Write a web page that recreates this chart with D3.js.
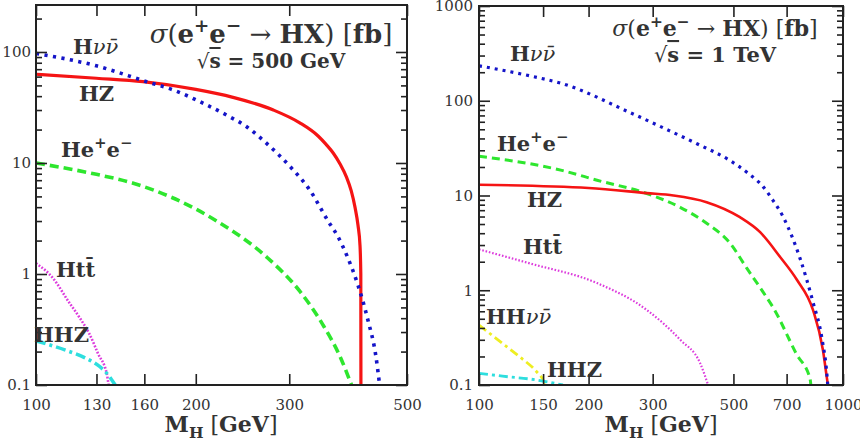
<!DOCTYPE html>
<html>
<head>
<meta charset="utf-8">
<script src="https://cdnjs.cloudflare.com/ajax/libs/d3/7.8.5/d3.min.js"></script>
<style>
body { margin: 0; background: #fff; }
svg { display: block; }
text { font-family: "DejaVu Serif", serif; fill: #333; }
</style>
</head>
<body>
<svg id="chart" width="860" height="446"></svg>
<script>
// sqrt(s) = 500 GeV, [M_H in GeV, sigma in fb]
var hnn500 = [[100, 97], [130, 75], [161.6, 54], [181.4, 45.5], [203.6, 35.7], [228.6, 27], [249.4, 21.2],
  [272, 15], [301, 9.3], [328, 5.7], [355, 3.0], [370, 2.2], [387, 1.39], [404, 0.8], [422, 0.385],
  [437, 0.18], [444, 0.1]];
var hz500 = [[100, 63], [130, 58], [159, 54], [200, 46], [235, 39], [280, 30], [314, 23], [340, 17.5],
  [352, 14.7], [363, 12.3], [374, 9.8], [384.4, 7.5], [392.6, 5.6], [399, 4.0], [404.2, 2.76],
  [407.8, 1.8], [409.2, 1.0], [409.4, 0.1]];
var he500 = [[100, 10], [130, 7.9], [152, 6.6], [219, 3.0], [272, 1.42], [314, 0.70],
  [347, 0.35], [374, 0.18], [393, 0.1]];
var htt500 = [[100, 1.25], [108, 0.9], [115, 0.57], [121, 0.40], [126, 0.29], [131, 0.19], [136, 0.125], [137, 0.1]];
var hhz500 = [[100, 0.25], [114, 0.205], [124, 0.175], [132, 0.146], [137, 0.122], [141, 0.1]];

// sqrt(s) = 1 TeV
var hnn1000 = [[100, 234], [138, 183], [170, 151], [260, 75], [320, 52], [397, 35.2], [489, 23.4], [545, 17.5],
  [603, 12.4], [642, 8.9], [684, 6.0], [724, 3.7], [762, 2.17], [827, 0.75], [876, 0.305], [904, 0.124], [908, 0.1]];
var hz1000 = [[100, 13], [200, 12], [289, 10.6], [342, 10.0], [422, 8.5], [521, 5.9], [592, 4.1], [671, 2.26],
  [747, 1.29], [827, 0.62], [881, 0.233], [903, 0.119], [909, 0.1]];
var he1000 = [[100, 26], [170, 18.3], [211, 14.5], [289, 10.5], [357, 7.5], [422, 5.1], [489, 3.15],
  [544, 1.71], [604, 0.95], [644, 0.65], [746, 0.21], [812, 0.116], [816, 0.1]];
var htt1000 = [[100, 2.7], [138, 1.92], [211, 1.19], [289, 0.62], [357, 0.30], [405, 0.17], [426, 0.1]];
var hhnn1000 = [[100, 0.43], [116, 0.275], [129, 0.2], [144, 0.138], [150, 0.113], [152, 0.1]];
var hhz1000 = [[100, 0.133], [116, 0.124], [144, 0.113], [170, 0.1]];

var xTicks500 = [100, 130, 160, 200, 300, 500];
var yTicks500 = [0.1, 1, 10, 100];
var xTicks1000 = [100, 150, 200, 300, 500, 700, 1000];
var yTicks1000 = [0.1, 1, 10, 100, 1000];

var svg = d3.select('#chart');

// text made of styled pieces: b = bold, i = italic, o = overline, sup / sub
function richText(g, x, y, parts, size, anchor) {
  var t = g.append('text')
    .attr('x', x).attr('y', y)
    .attr('font-size', size)
    .attr('text-anchor', anchor || 'start');
  var shift = 0;
  parts.forEach(function(p) {
    var s = (p[1] || '').split(' ');
    var target = s.indexOf('sup') >= 0 ? -0.42 * size : (s.indexOf('sub') >= 0 ? 0.25 * size : 0);
    var sp = t.append('tspan')
      .attr('dy', target - shift)
      .attr('font-weight', s.indexOf('b') >= 0 ? 'bold' : 'normal')
      .attr('font-style', s.indexOf('i') >= 0 ? 'italic' : 'normal')
      .text(p[0]);
    if (target !== 0) sp.attr('font-size', size * 0.7);
    if (s.indexOf('o') >= 0) sp.style('text-decoration', 'overline');
    shift = target;
  });
  return t;
}

function minorTicks(domain) {
  var out = [];
  for (var e = Math.floor(Math.log10(domain[0])); e <= Math.ceil(Math.log10(domain[1])); e++) {
    for (var k = 2; k <= 9; k++) {
      var v = k * Math.pow(10, e);
      if (v > domain[0] && v < domain[1]) out.push(v);
    }
  }
  return out;
}

function drawPanel(p, id) {
  var x = d3.scaleLog().domain(p.xDomain).range([p.left, p.right]);
  var y = d3.scaleLog().domain(p.yDomain).range([p.bottom, p.top]);
  var g = svg.append('g');

  g.append('clipPath').attr('id', 'clip' + id)
    .append('rect')
    .attr('x', p.left).attr('y', p.top)
    .attr('width', p.right - p.left).attr('height', p.bottom - p.top);

  var line = d3.line()
    .x(function(d) { return x(d[0]); })
    .y(function(d) { return y(d[1]); })
    .curve(d3.curveMonotoneX);

  g.append('g').attr('clip-path', 'url(#clip' + id + ')')
    .selectAll('path')
    .data(p.curves)
    .enter().append('path')
    .attr('d', function(c) { return line(c.data); })
    .attr('fill', 'none')
    .attr('stroke', function(c) { return c.color; })
    .attr('stroke-width', function(c) { return c.width; })
    .attr('stroke-dasharray', function(c) { return c.dash; });

  var fmt = function(d) { return String(d); };
  var styleAxis = function(a) {
    a.select('.domain').remove();
    a.selectAll('line').attr('stroke', '#222').attr('stroke-width', 1.6);
    a.selectAll('text').attr('font-family', '"DejaVu Serif", serif').attr('font-size', 15).attr('fill', '#333');
  };
  var minor = minorTicks(p.yDomain);

  g.append('g').attr('transform', 'translate(0,' + p.bottom + ')')
    .call(d3.axisBottom(x).tickValues(p.xTicks).tickFormat(fmt).tickSize(-11).tickPadding(14))
    .call(styleAxis);
  g.append('g').attr('transform', 'translate(0,' + p.top + ')')
    .call(d3.axisTop(x).tickValues(p.xTicks).tickFormat('').tickSize(-11))
    .call(styleAxis);
  g.append('g').attr('transform', 'translate(' + p.left + ',0)')
    .call(d3.axisLeft(y).tickValues(p.yTicks).tickFormat(fmt).tickSize(-11).tickPadding(p.yPad))
    .call(styleAxis);
  g.append('g').attr('transform', 'translate(' + p.left + ',0)')
    .call(d3.axisLeft(y).tickValues(minor).tickFormat('').tickSize(-6))
    .call(styleAxis);
  g.append('g').attr('transform', 'translate(' + p.right + ',0)')
    .call(d3.axisRight(y).tickValues(p.yTicks).tickFormat('').tickSize(-11))
    .call(styleAxis);
  g.append('g').attr('transform', 'translate(' + p.right + ',0)')
    .call(d3.axisRight(y).tickValues(minor).tickFormat('').tickSize(-6))
    .call(styleAxis);

  g.append('rect')
    .attr('x', p.left).attr('y', p.top)
    .attr('width', p.right - p.left).attr('height', p.bottom - p.top)
    .attr('fill', 'none').attr('stroke', '#222').attr('stroke-width', 2);

  p.labels.forEach(function(l) {
    richText(g, l.x, l.y, l.parts, l.size, l.anchor);
  });
}

var title = [['σ', 'i'], ['('], ['e', 'b'], ['+', 'b sup'], ['e', 'b'], ['−', 'b sup'], [' → '], ['HX', 'b'], [')'], [' ['], ['fb', 'b'], [']']];
var xLabel = [['M', 'b'], ['H', 'b sub'], [' ['], ['GeV', 'b'], [']']];
var nunu = [['H', 'b'], ['νν\u0304', 'i']];
var hee = [['He', 'b'], ['+', 'b sup'], ['e', 'b'], ['−', 'b sup']];
var htt = [['Htt\u0304', 'b']];

drawPanel({
  left: 36, right: 407, top: 5, bottom: 385,
  xDomain: [100, 500], yDomain: [0.1, 265],
  xTicks: xTicks500, yTicks: yTicks500, yPad: 5,
  curves: [
    { data: he500, color: '#2ee62e', width: 3.6, dash: '9 5' },
    { data: hz500, color: '#f51414', width: 3.2, dash: null },
    { data: hnn500, color: '#1414c8', width: 3.6, dash: '3.2 5.4' },
    { data: htt500, color: '#dd3cdd', width: 2.6, dash: '1.8 1.6' },
    { data: hhz500, color: '#2edede', width: 3.6, dash: '10 4 3 4' }
  ],
  labels: [
    { x: 271, y: 43, parts: title, size: 26, anchor: 'middle' },
    { x: 271, y: 68, parts: [['√'], ['s', 'b o'], [' = 500 GeV', 'b']], size: 20, anchor: 'middle' },
    { x: 221, y: 432, parts: xLabel, size: 22, anchor: 'middle' },
    { x: 73, y: 54, parts: nunu, size: 21 },
    { x: 79, y: 101, parts: [['HZ', 'b']], size: 21 },
    { x: 61, y: 157, parts: hee, size: 21 },
    { x: 56, y: 277, parts: htt, size: 21 },
    { x: 34, y: 342, parts: [['HHZ', 'b']], size: 21 }
  ]
}, 'a');

drawPanel({
  left: 479, right: 843, top: 6, bottom: 385,
  xDomain: [100, 1000], yDomain: [0.1, 1000],
  xTicks: xTicks1000, yTicks: yTicks1000, yPad: 6,
  curves: [
    { data: he1000, color: '#2ee62e', width: 3, dash: '8 5' },
    { data: hz1000, color: '#f51414', width: 2.6, dash: null },
    { data: hnn1000, color: '#1414c8', width: 3.2, dash: '3 5' },
    { data: htt1000, color: '#dd3cdd', width: 2.2, dash: '1.6 1.8' },
    { data: hhnn1000, color: '#eeee22', width: 2.8, dash: '9 4 3 4' },
    { data: hhz1000, color: '#2edede', width: 2.8, dash: '9 4 3 4' }
  ],
  labels: [
    { x: 715, y: 36, parts: title, size: 22, anchor: 'middle' },
    { x: 715, y: 62, parts: [['√'], ['s', 'b o'], [' = 1 TeV', 'b']], size: 21, anchor: 'middle' },
    { x: 661, y: 432, parts: xLabel, size: 22, anchor: 'middle' },
    { x: 510, y: 61, parts: nunu, size: 21 },
    { x: 497, y: 151, parts: hee, size: 21 },
    { x: 527, y: 207, parts: [['HZ', 'b']], size: 21 },
    { x: 523, y: 254, parts: htt, size: 21 },
    { x: 486, y: 324, parts: [['HH', 'b'], ['νν\u0304', 'i']], size: 21 },
    { x: 547, y: 377, parts: [['HHZ', 'b']], size: 21 }
  ]
}, 'b');
</script>
</body>
</html>
